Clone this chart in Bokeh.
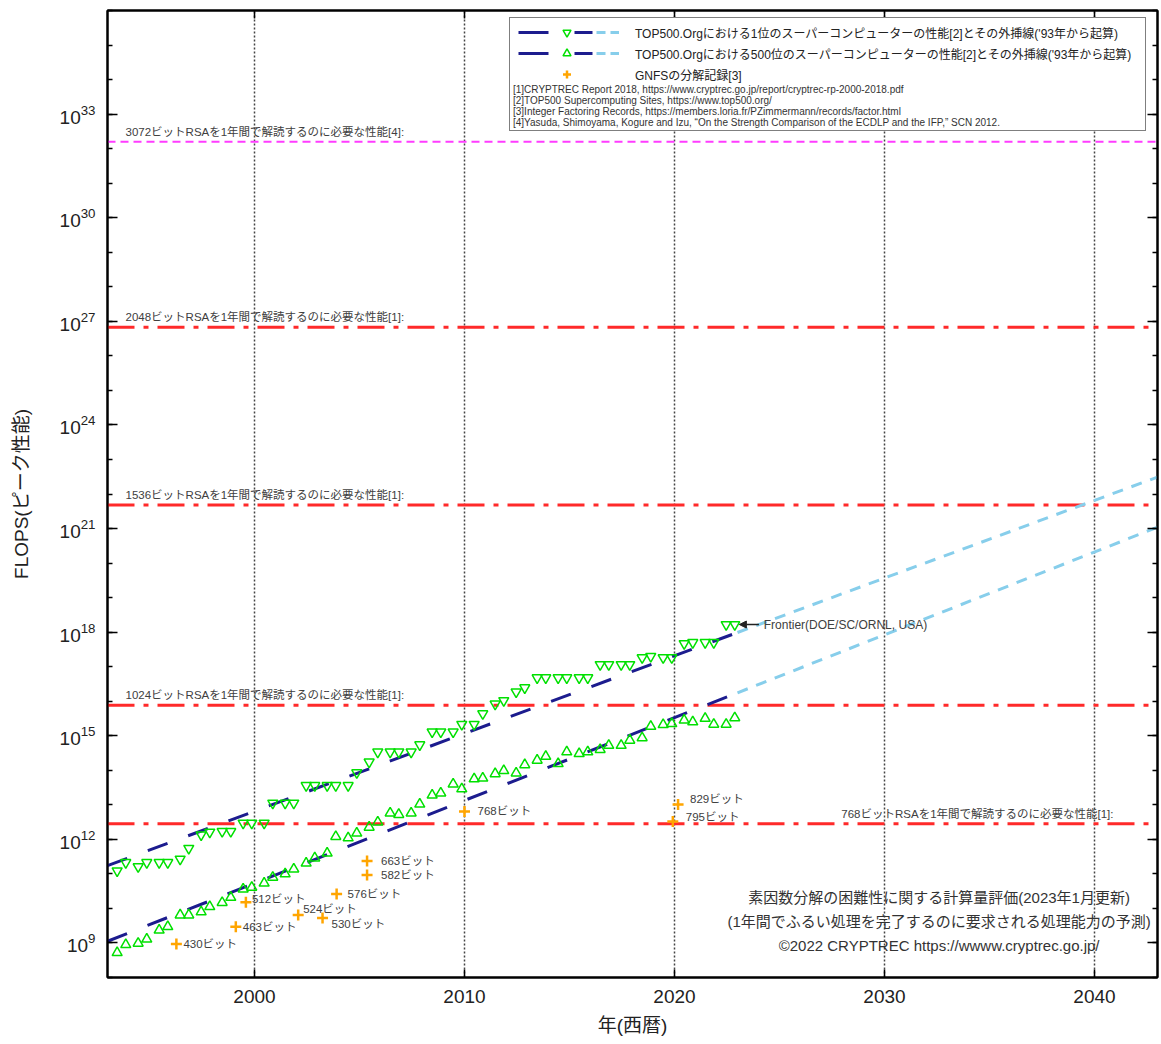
from bokeh.plotting import figure
from bokeh.models import (ColumnDataSource, Span, Label, Legend, LegendItem, LogAxis,
                          LinearAxis, FixedTicker, LogTickFormatter, Arrow, NormalHead,
                          CustomJSTickFormatter)
from bokeh.core.properties import value
from bokeh.embed import file_html
from bokeh.resources import INLINE

# ---------------- data ----------------
# TOP500 list editions: June and November of each year 1993-2022
list_years = [y + m for y in range(1993, 2023) for m in (0.46, 0.87)]

# log10 of peak FLOPS of the #1 system
top1_log10 = [11.09, 11.33, 11.21, 11.33, 11.33, 11.33, 11.43, 11.74, 12.13, 12.21,
              12.23, 12.23, 12.47, 12.47, 12.47, 13.05, 13.05, 13.05, 13.56, 13.56,
              13.56, 13.56, 13.56, 13.93, 14.24, 14.53, 14.53, 14.53, 14.53, 14.74,
              15.11, 15.11, 15.11, 15.33, 15.33, 15.64, 15.92, 16.02, 16.27, 16.39,
              16.68, 16.68, 16.68, 16.68, 16.68, 16.68, 17.06, 17.06, 17.06, 17.06,
              17.26, 17.30, 17.26, 17.26, 17.67, 17.70, 17.70, 17.70, 18.22, 18.22]

# log10 of peak FLOPS of the #500 system
top500_log10 = [8.72, 8.95, 8.99, 9.11, 9.37, 9.47, 9.81, 9.81, 9.90, 10.05,
                10.17, 10.32, 10.56, 10.61, 10.73, 10.90, 11.00, 11.14, 11.31, 11.46,
                11.60, 12.08, 12.04, 12.18, 12.35, 12.50, 12.76, 12.72, 12.76, 13.02,
                13.28, 13.34, 13.60, 13.46, 13.75, 13.77, 13.90, 13.99, 13.92, 14.16,
                14.29, 14.40, 14.19, 14.53, 14.48, 14.53, 14.60, 14.72, 14.72, 14.87,
                14.94, 15.27, 15.32, 15.35, 15.45, 15.40, 15.50, 15.33, 15.33, 15.52]

# trend lines: (log10 value in 1993, slope in decades per year)
trend_fit_years = [1993, 2023]
trend_ext_years = [2023, 2043]
top1_trend = (11.24, 0.225)
top500_trend = (9.05, 0.2398)

# GNFS factoring records
gnfs_bits = [430, 463, 512, 524, 530, 576, 582, 663, 768, 795, 829]
gnfs_years = [1996.28, 1999.11, 1999.59, 2002.08, 2003.24, 2003.91, 2005.36, 2005.36,
              2010.0, 2019.92, 2020.17]
gnfs_log10 = [8.97, 9.47, 10.18, 9.81, 9.72, 10.42, 10.97, 11.37, 12.81, 12.52, 13.01]

# performance needed to break RSA in one year
rsa_bits = [768, 1024, 1536, 2048, 3072]
rsa_log10 = [12.45, 15.88, 21.68, 26.83, 32.2]
rsa_refs = ["[1]", "[1]", "[1]", "[1]", "[4]"]

x_ticks = [2000, 2010, 2020, 2030, 2040]
y_major_exp = list(range(9, 34, 3))
y_minor_exp = list(range(8, 37))

legend_labels = [
    "TOP500.Orgにおける1位のスーパーコンピューターの性能[2]とその外挿線('93年から起算)",
    "TOP500.Orgにおける500位のスーパーコンピューターの性能[2]とその外挿線('93年から起算)",
    "GNFSの分解記録[3]",
]
ref_lines = [
    "[1]CRYPTREC Report 2018, https://www.cryptrec.go.jp/report/cryptrec-rp-2000-2018.pdf",
    "[2]TOP500 Supercomputing Sites, https://www.top500.org/",
    "[3]Integer Factoring Records, https://members.loria.fr/PZimmermann/records/factor.html",
    "[4]Yasuda, Shimoyama, Kogure and Izu, \u201cOn the Strength Comparison of the ECDLP and the IFP,\u201d SCN 2012.",
]
note_lines = [
    "素因数分解の困難性に関する計算量評価(2023年1月更新)",
    "(1年間でふるい処理を完了するのに要求される処理能力の予測)",
    "\u00a92022 CRYPTREC https://wwww.cryptrec.go.jp/",
]
frontier_label = "Frontier(DOE/SC/ORNL, USA)"

# ---------------- layout / style (not data) ----------------
gnfs_dx = [7, 7, 6, 5, 9, 11, 14, 14, 13, 13, 12]
gnfs_dy = [0, 0, -3, -6, 6, 0, 0, 0, 0, -4, -5]

JFONT = "Liberation Sans, Noto Sans CJK JP"
NAVY = "#1c1c8e"
SKY = "#87ceeb"
GREEN = "#00e000"
ORANGE = "#ffa500"
RED = "#ff2a2a"
MAGENTA = "#ff3cff"
TXT = "#404040"
NAN = float("nan")

p = figure(width=1160, height=1043, x_range=(1993, 2043), y_range=(1e8, 1e36),
           y_axis_type="log", output_backend="svg", toolbar_location=None,
           min_border_left=107, min_border_right=3, min_border_top=10, min_border_bottom=66,
           background_fill_color="white", border_fill_color="white")
p.outline_line_color = "black"
p.outline_line_width = 2

# axes
xa = p.xaxis[0]
xa.ticker = FixedTicker(ticks=x_ticks)
xa.major_tick_in = 8
xa.major_tick_out = 0
xa.minor_tick_in = 0
xa.minor_tick_out = 0
xa.axis_line_width = 2
xa.major_tick_line_width = 1.5
xa.major_label_text_font = "Liberation Sans"
xa.major_label_text_font_size = "19px"
xa.major_label_text_color = "#222222"
xa.major_label_standoff = 12
xa.axis_label = "年(西暦)"
xa.axis_label_text_font = JFONT
xa.axis_label_text_font_size = "19px"
xa.axis_label_text_font_style = "normal"
xa.axis_label_text_color = "#222222"
xa.axis_label_standoff = 9

ya = p.yaxis[0]
ya.ticker = FixedTicker(ticks=[10.0 ** e for e in y_major_exp],
                        minor_ticks=[10.0 ** e for e in y_minor_exp])
ya.formatter = LogTickFormatter()
ya.major_tick_in = 10
ya.major_tick_out = 0
ya.minor_tick_in = 5
ya.minor_tick_out = 0
ya.axis_line_width = 2
ya.major_tick_line_width = 1.5
ya.minor_tick_line_width = 1.5
ya.major_label_text_font = "Liberation Sans"
ya.major_label_text_font_size = "19px"
ya.major_label_text_color = "#222222"
ya.major_label_standoff = 12
ya.axis_label = "FLOPS(ピーク性能)"
ya.axis_label_text_font = JFONT
ya.axis_label_text_font_size = "19px"
ya.axis_label_text_font_style = "normal"
ya.axis_label_text_color = "#222222"
ya.axis_label_standoff = 25

top_ax = LinearAxis(ticker=FixedTicker(ticks=x_ticks),
                    formatter=CustomJSTickFormatter(code="return ''"),
                    major_label_standoff=0, major_tick_in=8, major_tick_out=0,
                    minor_tick_in=0, minor_tick_out=0, axis_line_width=2,
                    major_tick_line_width=1.5)
p.add_layout(top_ax, "above")
right_ax = LogAxis(ticker=FixedTicker(ticks=[10.0 ** e for e in y_major_exp],
                                      minor_ticks=[10.0 ** e for e in y_minor_exp]),
                   formatter=CustomJSTickFormatter(code="return ''"),
                   major_label_standoff=0, major_tick_in=10, major_tick_out=0,
                   minor_tick_in=5, minor_tick_out=0, axis_line_width=2,
                   major_tick_line_width=1.5, minor_tick_line_width=1.5)
p.add_layout(right_ax, "right")

p.xgrid.ticker = FixedTicker(ticks=x_ticks)
p.xgrid.grid_line_color = "#444444"
p.xgrid.grid_line_dash = "2 2"
p.xgrid.grid_line_width = 1.5
p.ygrid.visible = False

# RSA threshold lines
for bits, lv in zip(rsa_bits, rsa_log10):
    if bits == 3072:
        sp = Span(location=10.0 ** lv, dimension="width", line_color=MAGENTA,
                  line_width=2, line_dash="8 5", level="underlay")
    else:
        sp = Span(location=10.0 ** lv, dimension="width", line_color=RED,
                  line_width=3, line_dash="27 9 5 9", level="underlay")
    p.add_layout(sp)

rsa_text = [f"{b}ビットRSAを1年間で解読するのに必要な性能{r}:" for b, r in zip(rsa_bits, rsa_refs)]
src_rsa_left = ColumnDataSource(dict(x=[1993] * 4, y=[10.0 ** v for v in rsa_log10[1:]],
                                     text=rsa_text[1:]))
p.text("x", "y", text="text", source=src_rsa_left, x_offset=18, y_offset=-10,
       text_font=value(JFONT), text_font_size="11.5px", text_color=TXT,
       text_baseline="middle", text_align="left")
src_rsa_right = ColumnDataSource(dict(x=[2043], y=[10.0 ** rsa_log10[0]], text=rsa_text[:1]))
p.text("x", "y", text="text", source=src_rsa_right, x_offset=-44, y_offset=-10,
       text_font=value(JFONT), text_font_size="11.5px", text_color=TXT,
       text_baseline="middle", text_align="right")

# trend lines
def trend(params, years):
    a, b = params
    return [10.0 ** (a + b * (yr - 1993)) for yr in years]

p.line(trend_fit_years, trend(top1_trend, trend_fit_years), line_color=NAVY, line_width=3, line_dash="21 22")
p.line(trend_fit_years, trend(top500_trend, trend_fit_years), line_color=NAVY, line_width=3, line_dash="21 22")
p.line(trend_ext_years, trend(top1_trend, trend_ext_years), line_color=SKY, line_width=3, line_dash="11 9")
p.line(trend_ext_years, trend(top500_trend, trend_ext_years), line_color=SKY, line_width=3, line_dash="11 9")

# data points
src1 = ColumnDataSource(dict(x=list_years, y=[10.0 ** v for v in top1_log10]))
src500 = ColumnDataSource(dict(x=list_years, y=[10.0 ** v for v in top500_log10]))
r_top1 = p.scatter("x", "y", source=src1, marker="inverted_triangle", size=10,
                   line_color=GREEN, line_width=1.5, fill_color=None)
r_top500 = p.scatter("x", "y", source=src500, marker="triangle", size=10,
                     line_color=GREEN, line_width=1.5, fill_color=None)

gsrc = ColumnDataSource(dict(x=gnfs_years, y=[10.0 ** v for v in gnfs_log10],
                             label=[f"{b}ビット" for b in gnfs_bits], dx=gnfs_dx, dy=gnfs_dy))
r_gnfs = p.scatter("x", "y", source=gsrc, marker="cross", size=11, line_color=ORANGE, line_width=2.5)
p.text("x", "y", text="label", source=gsrc, x_offset="dx", y_offset="dy",
       text_font=value(JFONT), text_font_size="11.5px", text_color=TXT,
       text_baseline="middle", text_align="left")

# Frontier annotation
fx, fy = list_years[-1], 10.0 ** top1_log10[-1]
p.add_layout(Arrow(end=NormalHead(size=7, fill_color="#222222", line_color="#222222"),
                   x_start=fx + 1.15, y_start=fy, x_end=fx + 0.22, y_end=fy,
                   line_color="#222222", line_width=1.5))
p.text(x=[fx], y=[fy], text=[frontier_label], x_offset=29, text_font=value(JFONT),
       text_font_size="12px", text_color=TXT, text_baseline="middle", text_align="left")

# note (bottom right)
p.add_layout(Label(x=2032.6, y=10.0 ** 9.62, text="\n".join(note_lines), text_align="center",
                   text_baseline="middle", text_font=JFONT, text_font_size="15px",
                   text_line_height=1.42, text_color="#333333"))

# legend (swatch-only renderers hold NaN so they draw nothing in the plot)
sw_src = ColumnDataSource(dict(x=[NAN, NAN], y=[NAN, NAN]))
navy_sw = p.line("x", "y", source=sw_src, line_color=NAVY, line_width=3, line_dash="0 4 30 26 18 200")
sky_sw = p.line("x", "y", source=sw_src, line_color=SKY, line_width=3, line_dash="0 82 9 5 9 200")
blank_sw = p.scatter("x", "y", source=sw_src, size=1, fill_alpha=0, line_alpha=0)

legend = Legend(items=[
    LegendItem(label=value(legend_labels[0]), renderers=[navy_sw, sky_sw, r_top1]),
    LegendItem(label=value(legend_labels[1]), renderers=[navy_sw, sky_sw, r_top500]),
    LegendItem(label=value(legend_labels[2]), renderers=[r_gnfs]),
    LegendItem(label=value(" "), renderers=[blank_sw]),
    LegendItem(label=value("  "), renderers=[blank_sw]),
], location=(402, 846), padding=4, spacing=1, glyph_width=105, glyph_height=20,
    label_height=20, label_width=506, label_standoff=16, label_text_font=JFONT,
    label_text_font_size="12px", label_text_color="#222222", border_line_color="black",
    border_line_width=1.5, background_fill_color="white", background_fill_alpha=1.0, margin=0)
p.add_layout(legend)

# reference list inside the legend box (text-only legend, drawn after the box)
ref_legend = Legend(items=[LegendItem(label=value(t), renderers=[blank_sw]) for t in ref_lines],
                    location=(406, 849), padding=0, spacing=0, glyph_width=0, glyph_height=9,
                    label_height=9, label_width=0, label_standoff=0,
                    label_text_font="Liberation Sans", label_text_font_size="10px",
                    label_text_color="#333333", border_line_alpha=0,
                    background_fill_alpha=0, margin=0)
p.add_layout(ref_legend)

open("out.html", "w").write(file_html(p, INLINE))
